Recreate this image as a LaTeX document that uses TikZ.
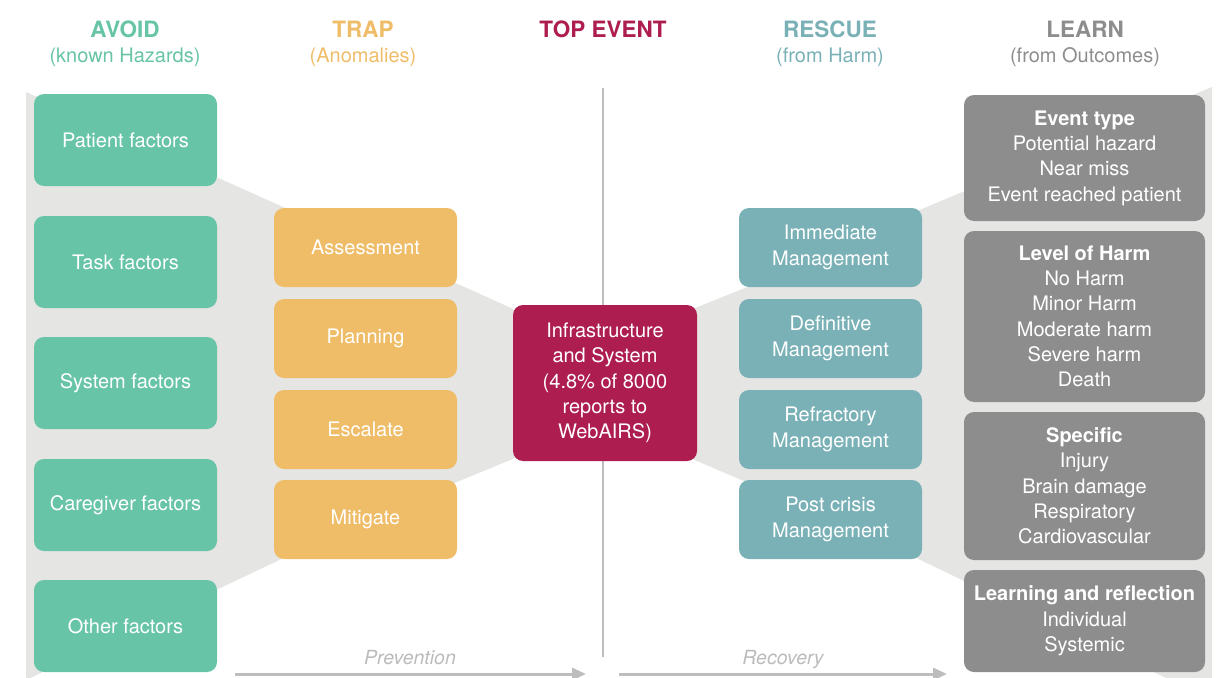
\documentclass[tikz,border=0pt]{standalone}
\usepackage{fontspec}
\setmainfont{TeX Gyre Heros}
\usetikzlibrary{arrows.meta}

\definecolor{avoidc}{HTML}{67C4A7}
\definecolor{trapc}{HTML}{EFBD68}
\definecolor{topc}{HTML}{AD1D50}
\definecolor{rescuec}{HTML}{7AB1B7}
\definecolor{learnc}{HTML}{8C8D8C}
\definecolor{funnelc}{HTML}{E5E5E3}
\definecolor{axisc}{HTML}{BDBDBD}
\definecolor{flowtext}{HTML}{BBBBBB}

\begin{document}
\begin{tikzpicture}[x=1pt,y=-1pt,
  box/.style={rectangle, rounded corners=10pt, fill=#1, draw=none, text=white,
    align=center, inner sep=0pt, font=\fontsize{20}{25.3}\selectfont},
  avoidbox/.style={box=avoidc, minimum width=183pt, minimum height=92pt},
  trapbox/.style={box=trapc, minimum width=183pt, minimum height=79pt},
  rescuebox/.style={box=rescuec, minimum width=183pt, minimum height=79pt},
  learnbox/.style={box=learnc, minimum width=241pt},
  head/.style={font=\fontsize{22.5}{26}\selectfont\bfseries, text=#1, inner sep=0pt},
  subhead/.style={font=\fontsize{20}{24}\selectfont, text=#1, inner sep=0pt, anchor=base},
  flowlabel/.style={font=\fontsize{19.5}{24}\selectfont\itshape, text=flowtext, inner sep=0pt, anchor=base},
  flowarrow/.style={draw=axisc, line width=3pt, -{Triangle[length=14pt,width=12pt]}},
]
\useasboundingbox (0,0) rectangle (1217,677);

% funnel backdrops
\fill[funnelc] (26,92) -- (290,210) -- (440,210) -- (440,276) -- (520,312)
  -- (520,456) -- (440,489) -- (440,555) -- (290,555) -- (26,680) -- cycle;
\fill[funnelc] (1212,87) -- (910,214) -- (760,214) -- (760,282) -- (690,310)
  -- (690,458) -- (760,488) -- (760,555) -- (910,555) -- (1212,700) -- cycle;

% divider between prevention and recovery
\coordinate (divtop) at (603,88);
\coordinate (divbot) at (603,657);
\draw[axisc, line width=2.5pt] (divtop) -- (divbot);

% column headings
\node[head=avoidc] (hAvoid) at (125,29) {AVOID};
\node[subhead=avoidc] (sAvoid) at (125,63) {(known Hazards)};
\node[head=trapc] (hTrap) at (363,29) {TRAP};
\node[subhead=trapc] (sTrap) at (363,63) {(Anomalies)};
\node[head=topc] (hTop) at (603,29) {TOP EVENT};
\node[head=rescuec] (hRescue) at (830,29) {RESCUE};
\node[subhead=rescuec] (sRescue) at (830,63) {(from Harm)};
\node[head=learnc] (hLearn) at (1085,29) {LEARN};
\node[subhead=learnc] (sLearn) at (1085,63) {(from Outcomes)};

% avoid column
\node[avoidbox] (avoid1) at (125.5,140) {Patient factors};
\node[avoidbox] (avoid2) at (125.5,262) {Task factors};
\node[avoidbox] (avoid3) at (125.5,383) {System factors};
\node[avoidbox] (avoid4) at (125.5,505) {Caregiver factors};
\node[avoidbox] (avoid5) at (125.5,626) {Other factors};

% trap column
\node[trapbox] (trap1) at (365.5,247.5) {Assessment};
\node[trapbox] (trap2) at (365.5,338.5) {Planning};
\node[trapbox] (trap3) at (365.5,429.5) {Escalate};
\node[trapbox] (trap4) at (365.5,519.5) {Mitigate};

% top event
\node[box=topc, minimum width=184pt, minimum height=156pt] (top) at (605,383)
  {Infrastructure\\and System\\(4.8\% of 8000\\reports to\\WebAIRS)};

% rescue column
\node[rescuebox] (rescue1) at (830.5,247.5) {Immediate\\Management};
\node[rescuebox] (rescue2) at (830.5,338.5) {Definitive\\Management};
\node[rescuebox] (rescue3) at (830.5,429.5) {Refractory\\Management};
\node[rescuebox] (rescue4) at (830.5,519.5) {Post crisis\\Management};

% learn column
\node[learnbox, minimum height=126pt] (learn1) at (1084.5,158)
  {\textbf{Event type}\\Potential hazard\\Near miss\\Event reached patient};
\node[learnbox, minimum height=171pt] (learn2) at (1084.5,316.5)
  {\textbf{Level of Harm}\\No Harm\\Minor Harm\\Moderate harm\\Severe harm\\Death};
\node[learnbox, minimum height=148pt] (learn3) at (1084.5,486)
  {\textbf{Specific}\\Injury\\Brain damage\\Respiratory\\Cardiovascular};
\node[learnbox, minimum height=102pt] (learn4) at (1084.5,621)
  {\textbf{Learning and reflection}\\Individual\\Systemic};

% direction of flow
\coordinate (prevA) at (235,674);
\coordinate (prevB) at (586,674);
\coordinate (recA) at (619,674);
\coordinate (recB) at (947,674);
\draw[flowarrow] (prevA) -- (prevB);
\draw[flowarrow] (recA) -- (recB);
\node[flowlabel] (prevention) at (410,664) {Prevention};
\node[flowlabel] (recovery) at (783,664) {Recovery};
\end{tikzpicture}
\end{document}
